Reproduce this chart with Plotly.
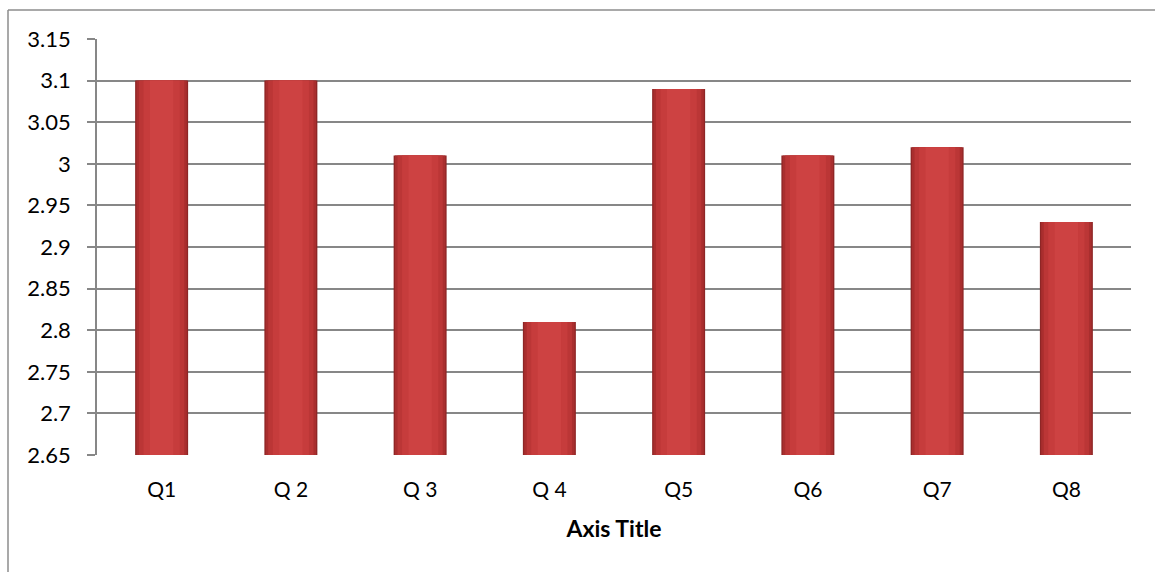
import plotly.graph_objects as go

categories = ["Q1", "Q 2", "Q 3", "Q 4", "Q5", "Q6", "Q7", "Q8"]
values = [3.10, 3.10, 3.01, 2.81, 3.09, 3.01, 3.02, 2.93]
y_ticks = [2.65, 2.70, 2.75, 2.80, 2.85, 2.90, 2.95, 3.00, 3.05, 3.10, 3.15]
y_tick_labels = ["2.65", "2.7", "2.75", "2.8", "2.85", "2.9", "2.95", "3", "3.05", "3.1", "3.15"]

base = y_ticks[0]
heights = [v - base for v in values]

fig = go.Figure()
# layered bars to mimic the horizontal shading of the original bevelled bars
layers = [
    (0.41, "#8e2626"),
    (0.39, "#a92e2e"),
    (0.35, "#bb3636"),
    (0.28, "#c63c3c"),
    (0.18, "#cd4242"),
]
for w, c in layers:
    fig.add_trace(go.Bar(
        x=categories, y=heights, base=base, width=w,
        marker=dict(color=c, line=dict(width=0)),
        hoverinfo="skip", showlegend=False,
    ))

FONT = "Lato, Calibri, Carlito, sans-serif"
GRID = "#878787"

fig.update_layout(
    width=1155, height=572,
    margin=dict(l=97, r=24, t=39, b=117),
    paper_bgcolor="white", plot_bgcolor="white",
    barmode="overlay",
    showlegend=False,
    font=dict(family=FONT, size=22, color="#000000"),
    xaxis=dict(
        showgrid=False, showline=False, zeroline=False,
        ticks="outside", ticklen=16, tickcolor="rgba(0,0,0,0)",
        tickfont=dict(family=FONT, size=21, color="#000"),
        title=dict(text="<b>Axis Title</b>", standoff=20,
                   font=dict(family=FONT, size=23, color="#000")),
        fixedrange=True,
    ),
    yaxis=dict(
        range=[2.65, 3.15],
        tickvals=y_ticks, ticktext=y_tick_labels,
        showgrid=True, gridcolor=GRID, gridwidth=1.5,
        showline=True, linecolor=GRID, linewidth=1.5,
        zeroline=False,
        ticks="outside", ticklen=8, tickcolor=GRID, tickwidth=1.5,
        ticklabelstandoff=12,
        tickfont=dict(family=FONT, size=22, color="#000"),
        fixedrange=True,
    ),
    shapes=[
        # outer chart border (left and top visible, rest cropped)
        dict(type="line", xref="paper", yref="paper",
             x0=(8 - 97) / 1034, x1=(8 - 97) / 1034,
             y0=1 + (39 - 10) / 416, y1=-0.3,
             line=dict(color="#8c8c8c", width=1.5)),
        dict(type="line", xref="paper", yref="paper",
             x0=(8 - 97) / 1034, x1=1.05,
             y0=1 + (39 - 10) / 416, y1=1 + (39 - 10) / 416,
             line=dict(color="#8c8c8c", width=1.5)),
    ],
)

fig.write_html("out.html")
